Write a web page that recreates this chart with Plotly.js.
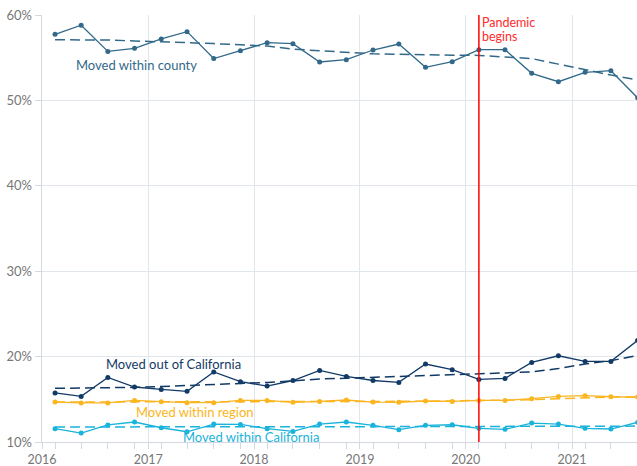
<!DOCTYPE html>
<html>
<head>
<meta charset="utf-8">
<script src="https://cdn.plot.ly/plotly-3.0.1.min.js"></script>
<style>html,body{margin:0;padding:0;background:#fff;}#chart{width:637px;height:466px;}</style>
</head>
<body>
<div id="chart"></div>
<script>
const quarters = ["2016-02-15","2016-05-15","2016-08-15","2016-11-15",
  "2017-02-15","2017-05-15","2017-08-15","2017-11-15",
  "2018-02-15","2018-05-15","2018-08-15","2018-11-15",
  "2019-02-15","2019-05-15","2019-08-15","2019-11-15",
  "2020-02-15","2020-05-15","2020-08-15","2020-11-15",
  "2021-02-15","2021-05-15","2021-08-15"];

const withinCounty = [57.74,58.8,55.74,56.1,57.2,58.05,54.9,55.8,56.76,56.64,54.5,54.77,55.9,56.6,53.87,54.53,55.94,55.94,53.17,52.19,53.29,53.48,50.3];
const withinCountyTrend = [57.1,57.12,57.07,56.96,56.9,56.76,56.65,56.5,56.37,56.0,55.8,55.6,55.45,55.4,55.32,55.3,55.27,55.1,54.9,54.25,53.56,52.97,52.4];

const outOfCA = [15.74,15.34,17.56,16.44,16.16,15.93,18.2,17.06,16.55,17.2,18.38,17.68,17.2,16.98,19.13,18.47,17.33,17.45,19.32,20.1,19.44,19.44,21.9];
const outOfCATrend = [16.28,16.3,16.35,16.4,16.5,16.6,16.72,16.85,16.98,17.15,17.38,17.47,17.57,17.65,17.75,17.85,18.0,18.1,18.2,18.6,19.13,19.52,20.14];

const withinRegion = [14.68,14.57,14.57,14.87,14.72,14.6,14.6,14.87,14.87,14.64,14.75,14.92,14.68,14.64,14.8,14.75,14.87,14.87,15.07,15.34,15.42,15.3,15.27];
const withinRegionTrend = [14.68,14.68,14.68,14.69,14.7,14.7,14.7,14.71,14.72,14.72,14.73,14.74,14.75,14.76,14.77,14.8,14.83,14.88,14.95,15.07,15.2,15.27,15.25];

const withinCA = [11.56,11.05,12.0,12.34,11.67,11.2,12.1,12.06,11.56,11.24,12.1,12.34,11.95,11.44,11.95,12.02,11.6,11.48,12.22,12.1,11.6,11.52,12.3];
const withinCATrend = [11.76,11.77,11.78,11.79,11.8,11.8,11.8,11.8,11.8,11.8,11.8,11.8,11.8,11.8,11.8,11.8,11.8,11.8,11.8,11.82,11.84,11.85,11.86];

const seriesNames = ["Moved within county","Moved out of California","Moved within region","Moved within California"];
const colors = ["#32698a","#123a66","#fbb520","#1ab3db"];
const pandemicDate = "2020-02-15";
const pandemicLines = ["Pandemic","begins"];

const yTickVals = [10,20,30,40,50,60];
const yTickText = ["10%","20%","30%","40%","50%","60%"];
const xTickVals = ['2016-01-01','2017-01-01','2018-01-01','2019-01-01','2020-01-01','2021-01-01'];
const xTickText = ['2016','2017','2018','2019','2020','2021'];

const FONT = "Lato, 'Open Sans', sans-serif";
const actual = [withinCounty, outOfCA, withinRegion, withinCA];
const trends = [withinCountyTrend, outOfCATrend, withinRegionTrend, withinCATrend];

const traces = [];
for (let i = 0; i < 4; i++) {
  traces.push({x: quarters, y: trends[i], type: 'scatter', mode: 'lines',
    line: {color: colors[i], width: 1.5, dash: '10px,5px'}, hoverinfo: 'skip', showlegend: false});
  traces.push({x: quarters, y: actual[i], type: 'scatter', mode: 'lines+markers', name: seriesNames[i],
    line: {color: colors[i], width: 1.3}, marker: {color: colors[i], size: 5}, showlegend: false});
}

const labelPos = [
  {x: "2016-11-23", y: 54.18},
  {x: "2017-03-29", y: 19.17},
  {x: "2017-06-10", y: 13.55},
  {x: "2017-12-21", y: 10.6}
];
const annotations = seriesNames.map((n, i) => ({
  x: labelPos[i].x, y: labelPos[i].y, xref: 'x', yref: 'y', text: n, showarrow: false,
  xanchor: 'center', yanchor: 'middle', font: {family: FONT, size: 13, color: colors[i]}
}));
// Pandemic label: two lines placed just right of the red line
[59.08, 57.44].forEach((yv, k) => annotations.push({
  x: pandemicDate, y: yv, xref: 'x', yref: 'y', text: pandemicLines[k],
  showarrow: false, xanchor: 'left', yanchor: 'middle', xshift: 1,
  font: {family: FONT, size: 12.5, color: '#ff2a2a'}
}));

const layout = {
  width: 637, height: 466,
  margin: {l: 42, r: 0, t: 15, b: 24},
  paper_bgcolor: '#fff', plot_bgcolor: '#fff',
  font: {family: FONT, size: 13, color: '#777'},
  showlegend: false,
  xaxis: {
    type: 'date', range: ['2016-01-01', '2021-08-13'],
    tickmode: 'array', tickvals: xTickVals, ticktext: xTickText,
    showgrid: true, gridcolor: '#e1e5ec', gridwidth: 1,
    showline: true, linecolor: '#d3d8e2', linewidth: 1,
    ticks: 'outside', ticklen: 6, tickcolor: '#d3d8e2',
    minor: {tickvals: quarters, ticks: 'outside', ticklen: 6, tickcolor: '#d3d8e2', showgrid: false},
    zeroline: false, fixedrange: true,
    tickfont: {family: FONT, size: 12.5, color: '#777'}
  },
  yaxis: {
    range: [10, 60], tickmode: 'array', tickvals: yTickVals, ticktext: yTickText,
    showgrid: true, gridcolor: '#e1e5ec', gridwidth: 1,
    showline: true, linecolor: '#d3d8e2', linewidth: 1.5,
    ticks: 'outside', ticklen: 6, tickcolor: '#d3d8e2',
    zeroline: false, fixedrange: true,
    tickfont: {family: FONT, size: 13, color: '#777'}
  },
  shapes: [{type: 'line', xref: 'x', yref: 'paper', x0: pandemicDate, x1: pandemicDate, y0: 0, y1: 1,
    line: {color: '#ff0000', width: 1.5}}],
  annotations: annotations
};

Plotly.newPlot('chart', traces, layout, {displayModeBar: false, staticPlot: true});
</script>
</body>
</html>
